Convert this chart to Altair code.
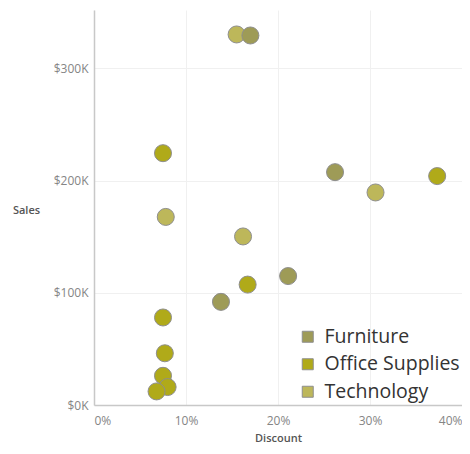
import altair as alt
import pandas as pd

categories = ["Technology"] * 4 + ["Office Supplies"] * 8 + ["Furniture"] * 4
discount = [0.155, 0.306, 0.078, 0.162,
            0.075, 0.373, 0.167, 0.075, 0.077, 0.075, 0.080, 0.068,
            0.170, 0.262, 0.138, 0.211]
sales = [330200, 189400, 167600, 150200,
         224400, 204000, 107300, 78000, 46100, 26000, 16000, 12100,
         329300, 207500, 91900, 114900]

legend_order = ["Furniture", "Office Supplies", "Technology"]
palette = ["#9E9B57", "#B0AA19", "#BDB75A"]

df = pd.DataFrame({"Category": categories, "Discount": discount, "Sales": sales})

font = "Open Sans"

chart = alt.Chart(df).mark_circle(
    size=290, opacity=1, stroke="#8e8e8e", strokeWidth=1
).encode(
    x=alt.X("Discount:Q",
            scale=alt.Scale(domain=[0, 0.4], nice=False, zero=True),
            axis=alt.Axis(values=[0, 0.1, 0.2, 0.3, 0.4], format=".0%",
                          title="Discount", titleY=36, titleBaseline="alphabetic",
                          labelPadding=10, labelFlush=True)),
    y=alt.Y("Sales:Q",
            scale=alt.Scale(domain=[0, 352000], nice=False),
            axis=alt.Axis(values=[0, 100000, 200000, 300000],
                          labelExpr="'$' + format(datum.value/1000, 'd') + 'K'",
                          title="Sales", titleAngle=0, titleX=-68, titleY=200,
                          titleAlign="center", titleBaseline="middle",
                          labelPadding=6)),
    color=alt.Color("Category:N",
                    scale=alt.Scale(domain=legend_order, range=palette),
                    legend=alt.Legend(title=None, orient="none", legendX=204, legendY=317,
                                      padding=0,
                                      symbolType="square", symbolSize=121,
                                      symbolStrokeColor="#8e8e8e", symbolStrokeWidth=1,
                                      labelFontSize=19.5, labelColor="#333333",
                                      labelFont=font, rowPadding=6.5, labelOffset=7)),
    order=alt.Order("Category:N", sort="descending"),
).properties(
    width=368, height=395,
    autosize=alt.AutoSizeParams(type="none"),
    padding={"left": 86, "top": 2, "right": 0, "bottom": 41},
).configure_view(stroke=None).configure_axis(
    labelFont=font, titleFont=font, labelFontSize=12, titleFontSize=11,
    labelColor="#858585", titleColor="#555555", titleFontWeight=600,
    domainColor="#c8c8c8", domainWidth=1.5, ticks=False,
    gridColor="#f0f0f0", gridWidth=1,
)

chart.save("out.html", embed_options={"renderer": "svg", "actions": False})
